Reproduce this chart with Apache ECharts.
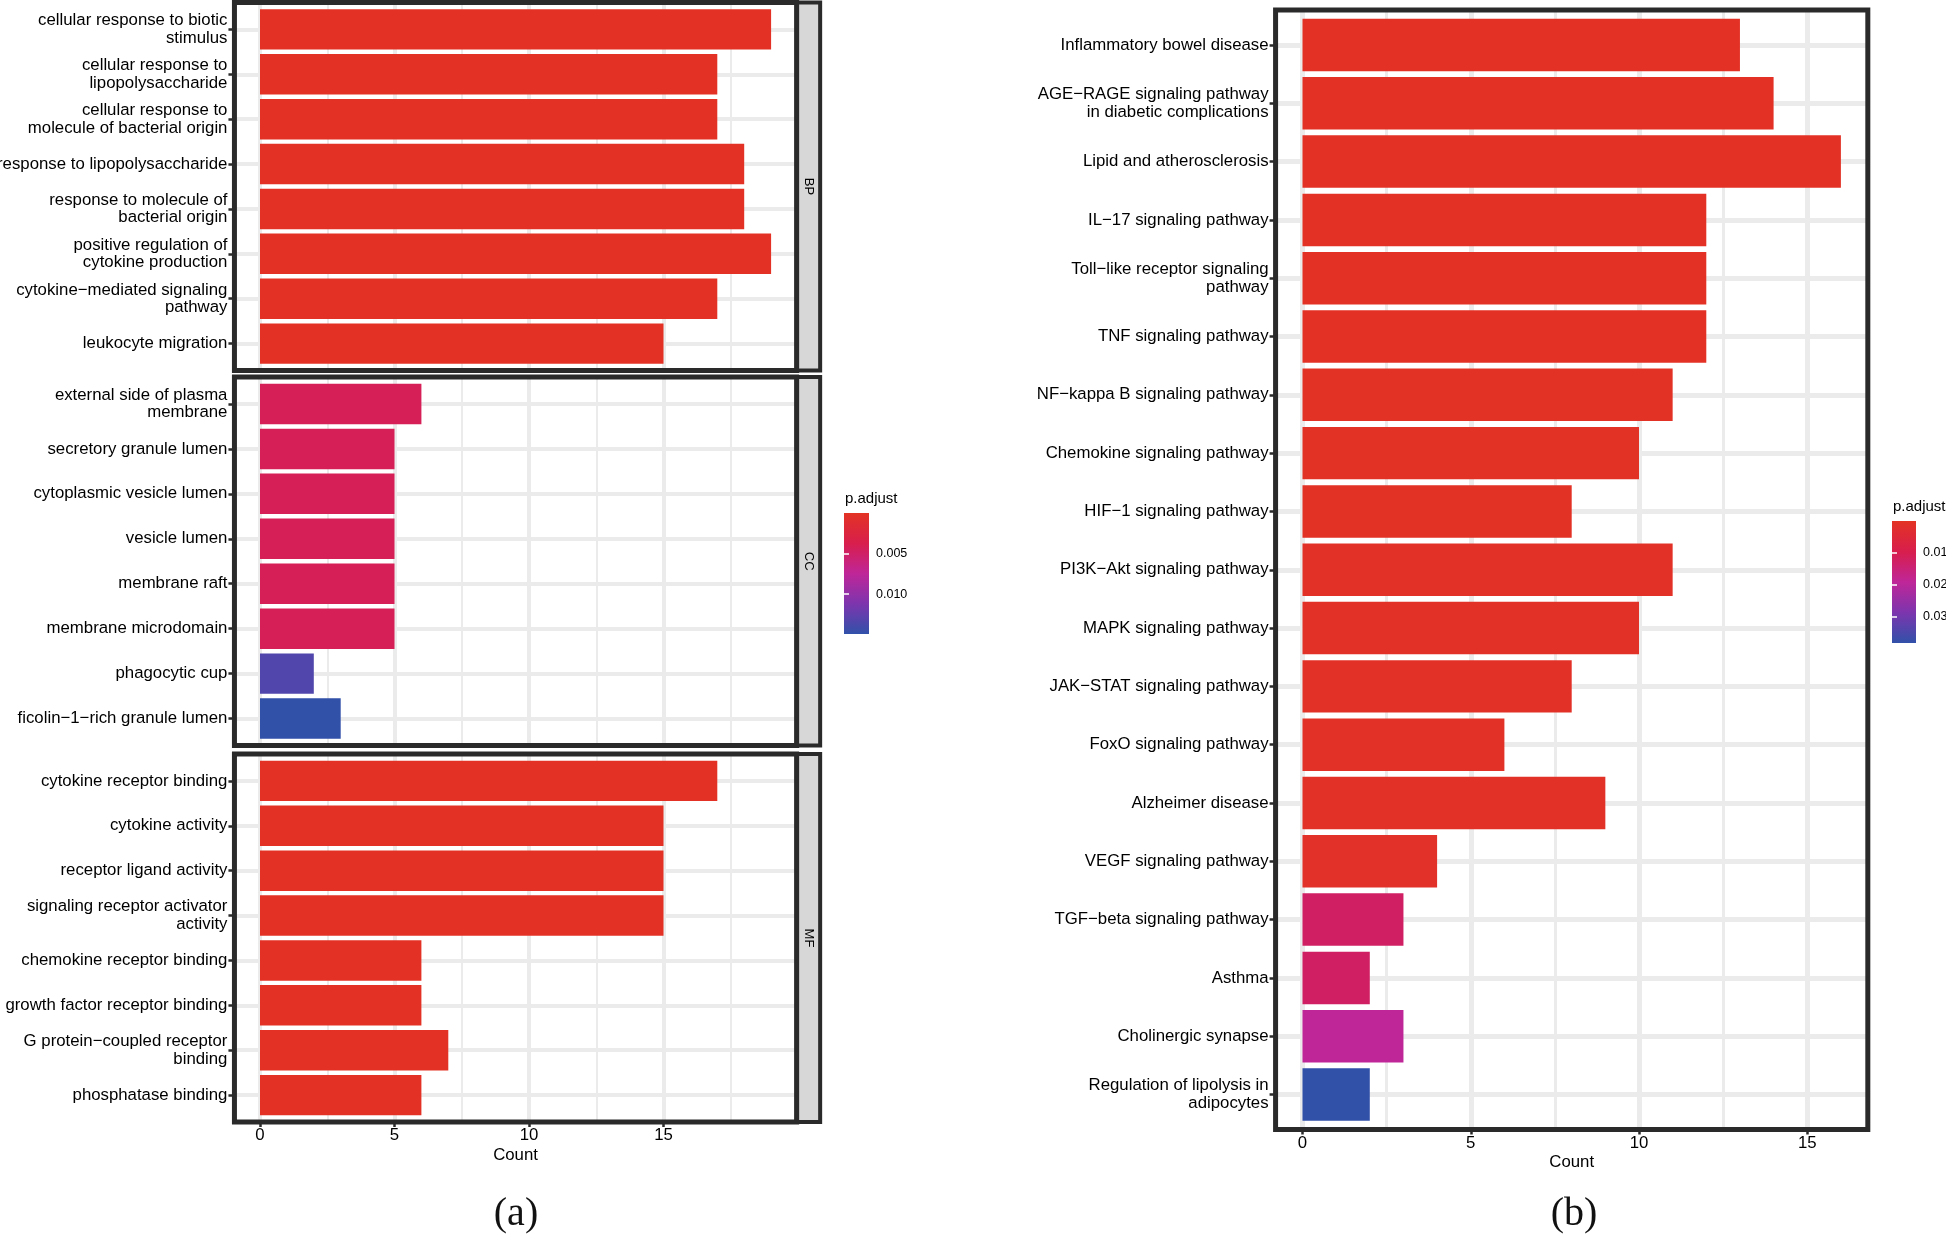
<!DOCTYPE html>
<html><head><meta charset="utf-8">
<script src="https://cdn.jsdelivr.net/npm/echarts@6/dist/echarts.min.js"></script>
<style>html,body{margin:0;padding:0;background:#fff}#c{width:1946px;height:1236px}</style>
</head><body><div id="c"></div>
<script>
// ---------------- DATA ----------------
const bpTerms = ['cellular response to biotic\nstimulus', 'cellular response to\nlipopolysaccharide', 'cellular response to\nmolecule of bacterial origin', 'response to lipopolysaccharide', 'response to molecule of\nbacterial origin', 'positive regulation of\ncytokine production', 'cytokine\u2212mediated signaling\npathway', 'leukocyte migration'];
const bpCount = [19, 17, 17, 18, 18, 19, 17, 15];
const bpPadj = [0.0001, 0.0001, 0.0001, 0.0001, 0.0001, 0.0001, 0.0001, 0.0001];

const ccTerms = ['external side of plasma\nmembrane', 'secretory granule lumen', 'cytoplasmic vesicle lumen', 'vesicle lumen', 'membrane raft', 'membrane microdomain', 'phagocytic cup', 'ficolin\u22121\u2212rich granule lumen'];
const ccCount = [6, 5, 5, 5, 5, 5, 2, 3];
const ccPadj = [0.0042, 0.0042, 0.0042, 0.0042, 0.0042, 0.0042, 0.0134, 0.0149];

const mfTerms = ['cytokine receptor binding', 'cytokine activity', 'receptor ligand activity', 'signaling receptor activator\nactivity', 'chemokine receptor binding', 'growth factor receptor binding', 'G protein\u2212coupled receptor\nbinding', 'phosphatase binding'];
const mfCount = [17, 15, 15, 15, 6, 6, 7, 6];
const mfPadj = [0.0001, 0.0001, 0.0001, 0.0001, 0.0001, 0.0001, 0.0001, 0.0001];

const keggTerms = ['Inflammatory bowel disease', 'AGE\u2212RAGE signaling pathway\nin diabetic complications', 'Lipid and atherosclerosis', 'IL\u221217 signaling pathway', 'Toll\u2212like receptor signaling\npathway', 'TNF signaling pathway', 'NF\u2212kappa B signaling pathway', 'Chemokine signaling pathway', 'HIF\u22121 signaling pathway', 'PI3K\u2212Akt signaling pathway', 'MAPK signaling pathway', 'JAK\u2212STAT signaling pathway', 'FoxO signaling pathway', 'Alzheimer disease', 'VEGF signaling pathway', 'TGF\u2212beta signaling pathway', 'Asthma', 'Cholinergic synapse', 'Regulation of lipolysis in\nadipocytes'];
const keggCount = [13, 14, 16, 12, 12, 12, 11, 10, 8, 11, 10, 8, 6, 9, 4, 3, 2, 3, 2];
const keggPadj = [0.0003, 0.0003, 0.0003, 0.0003, 0.0003, 0.0003, 0.0005, 0.0005, 0.0005, 0.0006, 0.0006, 0.0006, 0.0008, 0.0008, 0.0010, 0.0125, 0.0125, 0.0190, 0.0383];

const countTicks = [0, 5, 10, 15];
const legendTicksA = [0.005, 0.010];
const legendTicksB = [0.01, 0.02, 0.03];
const padjRangeA = [0, 0.0149];
const padjRangeB = [0, 0.0383];

// ---------------- STYLE ----------------
const gradColors = ['#E33324', '#D81E4C', '#BF2698', '#7D35AE', '#3151A9'];
const FONT = 'Liberation Sans';
const TXT = '#000';
const FRAME = '#2a2a2a';
const GRIDC = '#EBEBEB';

const grids = [], xAxes = [], yAxes = [], series = [], graphics = [];
function addGrid(g) { g.outerBoundsMode = 'none'; g.containLabel = false; grids.push(g); return grids.length - 1; }
function hv(gi) { return { type: 'value', gridIndex: gi, show: false }; }

function panel(o) {
  const N = o.terms.length, uy = o.H / (N + 0.2);
  const x0 = o.L + (0 - o.xmin) * o.u;
  const W = (o.xmax - o.xmin) * o.u;
  // major vertical gridlines
  let g = addGrid({ left: x0, top: o.T, width: 15 * o.u, height: o.H });
  xAxes.push({ type: 'value', gridIndex: g, min: 0, max: 15, interval: 5,
    axisLine: { show: false },
    axisTick: { show: !!o.bottom, length: 5, lineStyle: { color: FRAME, width: 2.5 } },
    axisLabel: { show: !!o.bottom, margin: 5, fontSize: o.fs, fontFamily: FONT, color: TXT, customValues: countTicks },
    splitLine: { show: true, lineStyle: { color: GRIDC, width: o.majW } } });
  yAxes.push(hv(g));
  // minor vertical gridlines
  g = addGrid({ left: x0 + 2.5 * o.u, top: o.T, width: (o.minMax - 2.5) * o.u, height: o.H });
  xAxes.push({ type: 'value', gridIndex: g, min: 2.5, max: o.minMax, interval: 5,
    axisLine: { show: false }, axisTick: { show: false }, axisLabel: { show: false },
    splitLine: { show: true, lineStyle: { color: GRIDC, width: o.minW } } });
  yAxes.push(hv(g));
  // horizontal gridlines + category labels
  g = addGrid({ left: o.L, top: o.T + 0.6 * uy, width: W, height: (N - 1) * uy });
  xAxes.push(hv(g));
  yAxes.push({ type: 'category', gridIndex: g, data: o.terms, inverse: true, boundaryGap: false,
    axisLine: { show: false },
    axisTick: { show: true, interval: 0, length: 6, lineStyle: { color: FRAME, width: 2.5 } },
    axisLabel: { interval: 0, margin: 7, fontSize: o.fs, lineHeight: o.lh, fontFamily: FONT, color: TXT },
    splitLine: { show: true, interval: 0, lineStyle: { color: GRIDC, width: o.majW } } });
  // bars
  g = addGrid({ left: o.L, top: o.T + 0.1 * uy, width: W, height: N * uy });
  xAxes.push({ type: 'value', gridIndex: g, min: o.xmin, max: o.xmax, show: false });
  yAxes.push({ type: 'category', gridIndex: g, data: o.terms, inverse: true, show: false });
  series.push({ type: 'bar', xAxisIndex: xAxes.length - 1, yAxisIndex: yAxes.length - 1,
    barWidth: '90%', encode: { x: 0, y: 1 }, z: 2,
    data: o.counts.map((c, i) => [c, i, o.padj[i]]) });
  const sIdx = series.length - 1;
  // frame
  g = addGrid({ left: o.L, top: o.T, width: W, height: o.H, show: true, z: 10,
    backgroundColor: 'transparent', borderColor: FRAME, borderWidth: 5 });
  xAxes.push({ type: 'value', gridIndex: g, min: o.xmin, max: o.xmax, show: !!o.bottom,
    name: o.bottom ? 'Count' : '', nameLocation: 'middle', nameGap: o.nameGap || 25,
    nameTextStyle: { fontSize: o.fs, fontFamily: FONT, color: TXT },
    axisLine: { show: false }, axisTick: { show: false }, axisLabel: { show: false }, splitLine: { show: false } });
  yAxes.push(hv(g));
  // strip
  if (o.strip) {
    const sw = 23.5;
    g = addGrid({ left: o.L + W, top: o.T, width: sw, height: o.H, show: true, z: 9,
      backgroundColor: '#D7D7D7', borderColor: FRAME, borderWidth: 4 });
    xAxes.push(hv(g)); yAxes.push(hv(g));
    graphics.push({ type: 'text', x: o.L + W + sw / 2, y: o.T + o.H / 2, rotation: -Math.PI / 2, z: 20,
      style: { text: o.strip, fill: TXT, font: '13px ' + FONT, align: 'center', verticalAlign: 'middle' } });
  }
  return sIdx;
}

function legendBar(o) {
  const g = addGrid({ left: o.left, top: o.top, width: o.width, height: o.height, show: true,
    borderWidth: 0, borderColor: 'transparent',
    backgroundColor: { type: 'linear', x: 0, y: 0, x2: 0, y2: 1,
      colorStops: gradColors.map((c, i) => ({ offset: i / (gradColors.length - 1), color: c })) } });
  xAxes.push(hv(g));
  yAxes.push({ type: 'value', gridIndex: g, min: o.range[0], max: o.range[1], inverse: true, position: 'right',
    axisLine: { show: false }, splitLine: { show: false },
    axisTick: { show: true, inside: true, length: 5, customValues: o.ticks, lineStyle: { color: '#fff', width: 1.5 } },
    axisLabel: { show: true, margin: 7, customValues: o.ticks, fontSize: 12.5, fontFamily: FONT, color: TXT,
      formatter: v => v.toFixed(o.dec) } });
  yAxes.push({ type: 'value', gridIndex: g, min: o.range[0], max: o.range[1], inverse: true, position: 'left',
    axisLine: { show: false }, splitLine: { show: false }, axisLabel: { show: false },
    axisTick: { show: true, inside: true, length: 5, customValues: o.ticks, lineStyle: { color: '#fff', width: 1.5 } } });
  graphics.push({ type: 'text', x: o.left + 1, y: o.top - 14, z: 20,
    style: { text: 'p.adjust', fill: TXT, font: '15px ' + FONT, align: 'left', verticalAlign: 'middle' } });
}

// ---------------- LAYOUT (a) ----------------
const uA = 26.9, LA = 260 - 0.95 * uA;
const common = { u: uA, L: LA, xmin: -0.95, xmax: 19.95, majW: 4, minW: 2, minMax: 17.5, fs: 16.8, lh: 17.5 };
const sBP = panel(Object.assign({}, common, { T: 2.5, H: 368, terms: bpTerms, counts: bpCount, padj: bpPadj, strip: 'BP' }));
const sCC = panel(Object.assign({}, common, { T: 377, H: 368.5, terms: ccTerms, counts: ccCount, padj: ccPadj, strip: 'CC' }));
const sMF = panel(Object.assign({}, common, { T: 754, H: 368, terms: mfTerms, counts: mfCount, padj: mfPadj, strip: 'MF', bottom: true, nameGap: 25 }));
legendBar({ left: 844, top: 513, width: 25, height: 121, range: padjRangeA, ticks: legendTicksA, dec: 3 });

// ---------------- LAYOUT (b) ----------------
const uB = 33.65;
const sKG = panel({ u: uB, L: 1302.5 - 0.8 * uB, xmin: -0.8, xmax: 16.8, majW: 5, minW: 3, minMax: 12.5, fs: 16.8, lh: 17.5,
  T: 10, H: 1119.5, terms: keggTerms, counts: keggCount, padj: keggPadj, bottom: true, nameGap: 24 });
legendBar({ left: 1892, top: 521, width: 24, height: 122, range: padjRangeB, ticks: legendTicksB, dec: 2 });

graphics.push({ type: 'text', x: 516, y: 1214, z: 20, style: { text: '(a)', fill: '#111', font: '40px Liberation Serif', align: 'center', verticalAlign: 'middle' } });
graphics.push({ type: 'text', x: 1574, y: 1214, z: 20, style: { text: '(b)', fill: '#111', font: '40px Liberation Serif', align: 'center', verticalAlign: 'middle' } });

const chart = echarts.init(document.getElementById('c'), null, { renderer: 'canvas' });
chart.setOption({
  animation: false,
  backgroundColor: '#fff',
  grid: grids, xAxis: xAxes, yAxis: yAxes, series: series,
  visualMap: [
    { type: 'continuous', show: false, seriesIndex: [sBP, sCC, sMF], dimension: 2, min: padjRangeA[0], max: padjRangeA[1], inRange: { color: gradColors } },
    { type: 'continuous', show: false, seriesIndex: [sKG], dimension: 2, min: padjRangeB[0], max: padjRangeB[1], inRange: { color: gradColors } }
  ],
  graphic: graphics
});
</script></body></html>
